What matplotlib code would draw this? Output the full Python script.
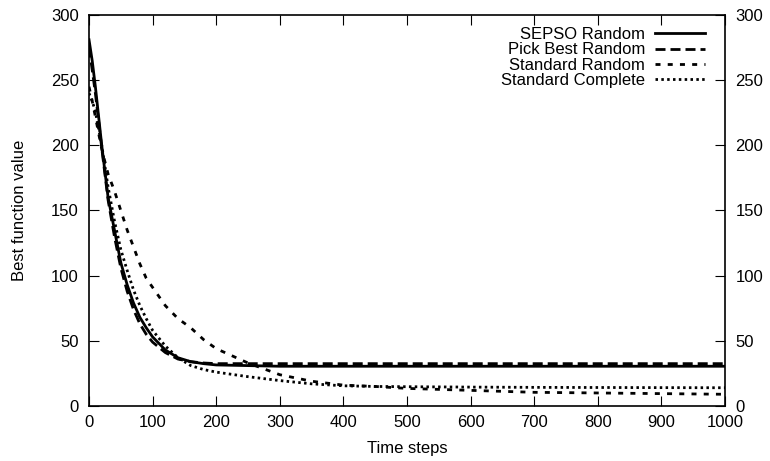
import matplotlib
matplotlib.use("Agg")
import matplotlib.pyplot as plt

plt.rcParams['font.family'] = ['Liberation Sans', 'DejaVu Sans']
plt.rcParams['font.size'] = 12

# --- DATA ---
steps = [0, 5, 10, 20, 30, 40, 50, 60, 70, 80, 90, 100, 120, 140, 160, 180,
         200, 250, 300, 350, 400, 450, 500, 600, 700, 800, 900, 1000]

sepso_random = [281, 265, 245, 200, 160, 135, 110, 93, 79, 68, 60, 53, 43, 37,
                34, 32.5, 31.5, 31, 30.5, 30.5, 30.5, 30.5, 30.5, 30.5, 30.5,
                30.5, 30.5, 30.5]
pick_best_random = [275, 258, 240, 198, 158, 130, 106, 88, 74, 63, 55, 49, 41,
                    36, 34, 33, 32.5, 32.5, 32.5, 32.5, 32.5, 32.5, 32.5, 32.5,
                    32.5, 32.5, 32.5, 32.5]
standard_random = [245, 234, 222, 197, 178, 165, 150, 135, 122, 109, 98, 91,
                   77, 67, 60, 51, 44, 33, 24, 19, 16, 15, 13.5, 12, 10.5, 10,
                   9.5, 9]
standard_complete = [240, 234, 226, 200, 168, 142, 120, 104, 89, 77, 67, 58,
                     46, 37, 31, 28, 26, 22.5, 19.5, 17, 15.5, 15, 14.8, 14.5,
                     14.3, 14.2, 14.1, 14]

labels = ['SEPSO Random', 'Pick Best Random', 'Standard Random', 'Standard Complete']
series = [sepso_random, pick_best_random, standard_random, standard_complete]
styles = ['-', (0, (3.6, 1.8)), (0, (1.8, 2.6)), (0, (0.9, 1.2))]

OUTPUT_FILENAME = 'out.png'

# --- PLOTTING ---
fig = plt.figure(figsize=(7.7, 4.61), dpi=100)
ax = fig.add_axes([0.1156, 0.1193, 0.8260, 0.8482])

for vals, lab, ls in zip(series, labels, styles):
    ax.plot(steps, vals, color='black', linewidth=2, linestyle=ls, label=lab)

ax.set_xlim(0, 1000)
ax.set_ylim(0, 300)
ax.set_xticks(range(0, 1001, 100))
ax.set_yticks(range(0, 301, 50))
ax.tick_params(direction='in', length=7, width=0.8, top=True, right=True,
               labelright=True, labelsize=12)
ax.tick_params(axis='x', pad=6.5)
ax.tick_params(axis='y', pad=7.5)
for sp in ax.spines.values():
    sp.set_linewidth(1.2)

ax.set_xlabel('Time steps', fontsize=12, labelpad=8)
ax.set_ylabel('Best function value', fontsize=12, labelpad=17)

ax.legend(loc='upper right', frameon=False, markerfirst=False,
          handlelength=3.0, handletextpad=0.6, labelspacing=0.02,
          borderaxespad=0, borderpad=0, fontsize=12,
          bbox_to_anchor=(0.9686, 0.969))

plt.savefig(OUTPUT_FILENAME, dpi=100)
